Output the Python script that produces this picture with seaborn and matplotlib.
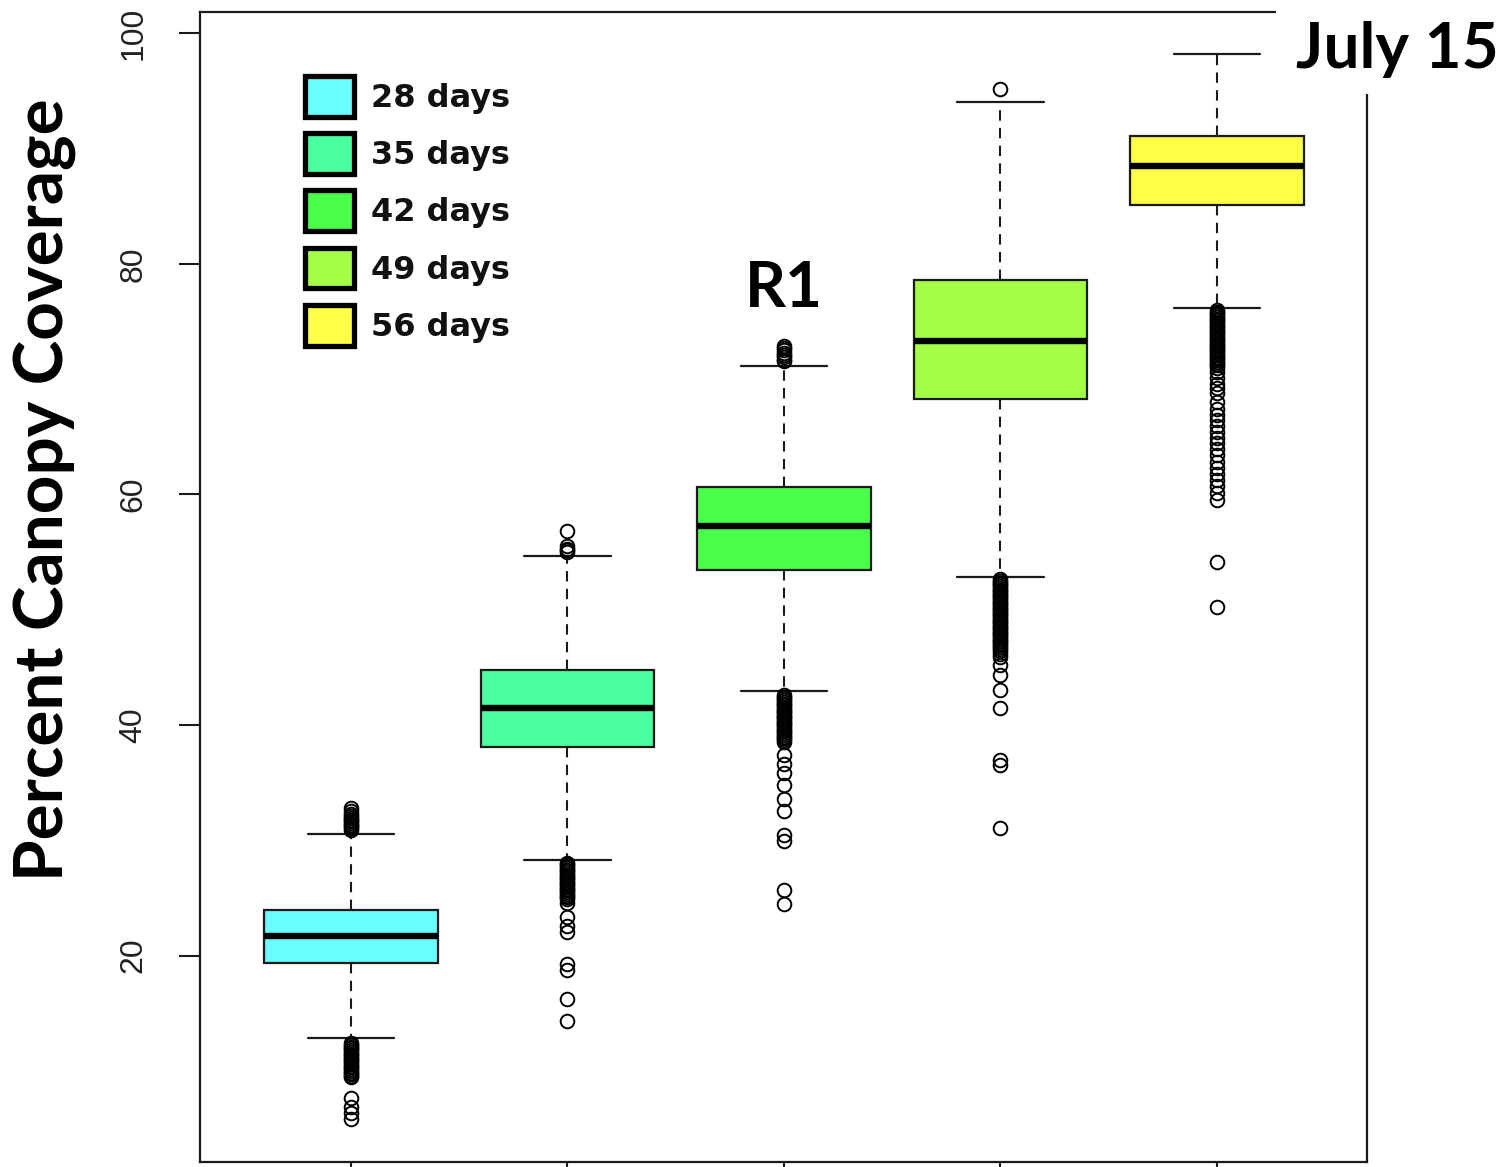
import numpy as np
import pandas as pd
import matplotlib
matplotlib.use("Agg")
import matplotlib.pyplot as plt
from matplotlib.patches import Patch, Rectangle
import seaborn as sns

# ---- data ----
groups = ["28 days", "35 days", "42 days", "49 days", "56 days"]
colors = ["#6CFFFF", "#4AFF9E", "#4AFF4A", "#A4FF47", "#FFFF47"]
q1 = [19.35, 38.1, 53.45, 68.25, 85.1]
median = [21.7, 41.45, 57.25, 73.3, 88.5]
q3 = [23.95, 44.75, 60.65, 78.6, 91.1]
whisker_low = [12.85, 28.3, 42.95, 52.8, 76.2]
whisker_high = [30.5, 54.7, 71.1, 94.0, 98.2]
fliers_low = [
    [12.4, 12.25, 12.1, 11.95, 11.8, 11.65, 11.5, 11.35, 11.2, 11.05, 10.9,
     10.75, 10.6, 10.45, 10.3, 10.15, 10.0, 9.85, 9.7, 9.55, 9.45,
     7.6, 6.9, 6.3, 5.8],
    [28.05, 27.9, 27.75, 27.6, 27.45, 27.3, 27.15, 27.0, 26.85, 26.7, 26.55,
     26.4, 26.25, 26.1, 25.95, 25.8, 25.65, 25.5, 25.35, 25.2, 25.05, 24.9,
     24.6, 23.3, 22.6, 22.0, 19.3, 18.75, 16.2, 14.3],
    [42.6, 42.45, 42.3, 42.15, 42.0, 41.85, 41.7, 41.55, 41.4, 41.25, 41.1,
     40.95, 40.8, 40.65, 40.5, 40.35, 40.2, 40.05, 39.9, 39.75, 39.6, 39.45,
     39.3, 39.15, 39.0, 38.85, 38.7, 38.55, 37.4, 36.6, 35.85, 34.8, 33.6,
     32.5, 30.45, 29.9, 25.7, 24.5],
    [52.65, 52.5, 52.35, 52.2, 52.05, 51.9, 51.75, 51.6, 51.45, 51.3, 51.15,
     51.0, 50.85, 50.7, 50.55, 50.4, 50.25, 50.1, 49.95, 49.8, 49.65, 49.5,
     49.35, 49.2, 49.05, 48.9, 48.75, 48.6, 48.45, 48.3, 48.15, 48.0, 47.85,
     47.7, 47.55, 47.4, 47.25, 47.1, 46.95, 46.8, 46.6, 46.4, 46.2, 45.9,
     45.2, 44.3, 43.0, 41.45, 37.0, 36.5, 31.05],
    [76.0, 75.85, 75.7, 75.55, 75.4, 75.25, 75.1, 74.95, 74.8, 74.65, 74.5,
     74.35, 74.2, 74.05, 73.9, 73.75, 73.6, 73.45, 73.3, 73.15, 73.0, 72.85,
     72.7, 72.55, 72.4, 72.25, 72.1, 71.95, 71.8, 71.65, 71.5, 71.35, 71.2,
     71.0, 70.6, 70.1, 69.6, 69.2, 68.8, 68.0, 67.4, 66.9, 66.45, 65.9, 65.4,
     64.9, 64.45, 63.9, 63.4, 62.8, 62.3, 61.8, 61.25, 60.7, 60.1, 59.5,
     54.1, 50.2],
]
fliers_high = [
    [30.9, 31.05, 31.2, 31.35, 31.5, 31.65, 31.8, 31.95, 32.1, 32.3, 32.5, 32.8],
    [55.0, 55.15, 55.3, 55.5, 56.8],
    [71.55, 71.7, 71.9, 72.1, 72.3, 72.5, 72.7, 72.9],
    [95.2],
    [],
]
ytick_values = [20, 40, 60, 80, 100]

# summary values expanded into a sample whose box statistics equal the read ones
REP = 1000
records = []
for i, g in enumerate(groups):
    vals = (fliers_low[i] + [whisker_low[i]] + [q1[i]] * REP + [median[i]] * REP
            + [q3[i]] * REP + [whisker_high[i]] + fliers_high[i])
    records.append(pd.DataFrame({"group": g, "value": vals}))
df = pd.concat(records, ignore_index=True)

sns.set_style("ticks")
plt.rcParams["font.family"] = ["DejaVu Sans"]

W, H = 1511, 1167
fig = plt.figure(figsize=(W / 100, H / 100), dpi=100)
ax = fig.add_axes([200 / W, 5 / H, 1167 / W, 1150 / H])

ink = "#1a1a1a"
sns.boxplot(
    data=df, x="group", y="value", hue="group", order=groups, hue_order=groups,
    palette=colors, saturation=1, width=0.8, whis=1.5, legend=False,
    linecolor=ink, linewidth=1.6, ax=ax,
    medianprops=dict(color="black", linewidth=4.6),
    whiskerprops=dict(linestyle=(0, (5, 3.5)), linewidth=1.5),
    capprops=dict(linewidth=1.6),
    flierprops=dict(marker="o", markerfacecolor="none", markeredgecolor="black",
                    markersize=9.8, markeredgewidth=1.4),
)

ax.set_xlim(-0.697, 4.693)
ax.set_ylim(2.09, 101.85)
ax.set_yticks(ytick_values)
ax.set_yticklabels([str(v) for v in ytick_values], rotation=90, va="center",
                   fontsize=23, color="#222222", family="Liberation Sans")
ax.set_xticks(range(len(groups)))
ax.set_xticklabels([])
ax.tick_params(axis="y", length=15, width=1.5, color=ink, pad=22)
ax.tick_params(axis="x", length=8, width=1.5, color=ink)
ax.set_xlabel("")
ax.set_ylabel("")
for s in ax.spines.values():
    s.set_visible(True)
    s.set_linewidth(1.6)
    s.set_color(ink)

# legend
handles = [Patch(facecolor=c, edgecolor="black", linewidth=3.8) for c in colors]
leg = ax.legend(handles, groups, loc="upper left",
                bbox_to_anchor=(305 / W, 1 - 76 / H), bbox_transform=fig.transFigure,
                frameon=False, borderpad=0, borderaxespad=0,
                handlelength=1.53, handleheight=1.58, handletextpad=0.55,
                labelspacing=0.52,
                prop=dict(family="DejaVu Sans", weight="bold", size=23))
for t in leg.get_texts():
    t.set_color("#111111")

# annotations
ax.text(2, 77.9, "R1", ha="center", va="center", fontsize=46,
        fontweight="bold", family="Lato", color="black")

fig.add_artist(Rectangle((1276 / W, 1 - 94 / H), (W - 1276) / W, 94 / H,
                         transform=fig.transFigure, facecolor="white",
                         edgecolor="none", zorder=5))
fig.text(1397 / W, 1 - 50 / H, "July 15", ha="center", va="center",
         fontsize=46, fontweight="bold", family="Lato", color="black", zorder=6)

fig.text(45 / W, 1 - 490 / H, "Percent Canopy Coverage", rotation=90,
         ha="center", va="center", fontsize=48.5, fontweight="bold",
         family="Lato", color="black")

fig.savefig("out.png", dpi=100)
